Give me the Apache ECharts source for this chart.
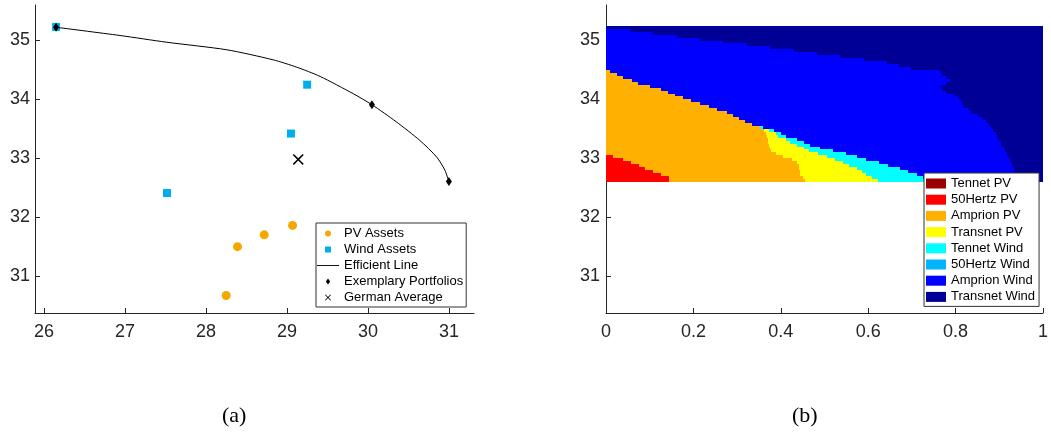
<!DOCTYPE html>
<html>
<head>
<meta charset="utf-8">
<script src="https://cdn.jsdelivr.net/npm/echarts@6/dist/echarts.min.js"></script>
<style>
  html, body { margin: 0; padding: 0; background: #fff; }
  #chart { width: 1051px; height: 440px; }
</style>
</head>
<body>
<div id="chart"></div>
<script>
// ---- (a) risk / return of single assets and the efficient line ----
const pvRisk = [28.25, 28.39, 28.72, 29.07];
const pvReturn = [30.67, 31.50, 31.70, 31.86];
const windRisk = [26.15, 27.52, 29.05, 29.25];
const windReturn = [35.23, 32.41, 33.42, 34.25];
const effRisk = [26.15, 26.94, 27.51, 28.26, 28.83, 29.12, 29.41, 29.82, 30.05, 30.35, 30.64, 30.85, 30.95, 31.0];
const effReturn = [35.225, 35.085, 34.972, 34.842, 34.672, 34.548, 34.39, 34.096, 33.91, 33.62, 33.305, 33.02, 32.80, 32.605];
const exRisk = [26.15, 30.05, 31.0];
const exReturn = [35.225, 33.91, 32.605];
const avgRisk = [29.14];
const avgReturn = [32.98];

const riskTicks = [26, 27, 28, 29, 30, 31];
const returnTicks = [31, 32, 33, 34, 35];
const shareTicks = [0, 0.2, 0.4, 0.6, 0.8, 1];

// ---- (b) portfolio composition along the efficient line ----
// return band edges (bottom to top)
const returnEdges = [32.60, 32.65, 32.70, 32.75, 32.80, 32.85, 32.90, 32.95, 33.00, 33.05,
  33.10, 33.15, 33.20, 33.25, 33.30, 33.35, 33.40, 33.45, 33.50, 33.55,
  33.60, 33.65, 33.70, 33.75, 33.80, 33.85, 33.90, 33.95, 34.00, 34.05,
  34.10, 34.15, 34.20, 34.25, 34.30, 34.35, 34.40, 34.45, 34.50, 34.55,
  34.60, 34.65, 34.70, 34.75, 34.80, 34.85, 34.90, 34.95, 35.00, 35.05,
  35.10, 35.15, 35.20, 35.25];

const assetNames = ['Tennet PV', '50Hertz PV', 'Amprion PV', 'Transnet PV',
  'Tennet Wind', '50Hertz Wind', 'Amprion Wind', 'Transnet Wind'];
const assetColors = ['#9b0000', '#ff0000', '#ffb000', '#ffff00',
  '#00ffff', '#00b4ff', '#0000ff', '#000096'];

// shares per band, bottom band first
const tennetPV = [0, 0, 0, 0, 0, 0, 0, 0, 0, 0, 0, 0, 0, 0, 0, 0, 0, 0, 0, 0,
  0, 0, 0, 0, 0, 0, 0, 0, 0, 0, 0, 0, 0, 0, 0, 0, 0, 0, 0, 0,
  0, 0, 0, 0, 0, 0, 0, 0, 0, 0, 0, 0, 0];
const hertzPV = [0.144, 0.144, 0.127, 0.108, 0.089, 0.076, 0.058, 0.039, 0.015, 0,
  0, 0, 0, 0, 0, 0, 0, 0, 0, 0, 0, 0, 0, 0, 0, 0, 0, 0, 0, 0,
  0, 0, 0, 0, 0, 0, 0, 0, 0, 0, 0, 0, 0, 0, 0, 0, 0, 0, 0, 0, 0, 0, 0];
const amprionPV = [0.311, 0.306, 0.318, 0.335, 0.352, 0.365, 0.378, 0.386, 0.39, 0.39,
  0.377, 0.375, 0.373, 0.371, 0.37, 0.368, 0.366, 0.362, 0.352, 0.335,
  0.318, 0.305, 0.29, 0.276, 0.255, 0.236, 0.214, 0.195, 0.176, 0.159,
  0.142, 0.125, 0.1, 0.073, 0.06, 0.04, 0.025, 0.01, 0, 0,
  0, 0, 0, 0, 0, 0, 0, 0, 0, 0, 0, 0, 0];
const transnetPV = [0.168, 0.158, 0.15, 0.142, 0.134, 0.114, 0.107, 0.099, 0.1, 0.096,
  0.087, 0.077, 0.064, 0.051, 0.041, 0.025, 0.022, 0.01, 0, 0,
  0, 0, 0, 0, 0, 0, 0, 0, 0, 0, 0, 0, 0, 0, 0, 0, 0, 0, 0, 0,
  0, 0, 0, 0, 0, 0, 0, 0, 0, 0, 0, 0, 0];
const tennetWind = [0.117, 0.117, 0.117, 0.105, 0.097, 0.09, 0.082, 0.071, 0.07, 0.064,
  0.056, 0.038, 0.03, 0.03, 0.026, 0.018, 0.012, 0.012, 0.008, 0,
  0, 0, 0, 0, 0, 0, 0, 0, 0, 0, 0, 0, 0, 0, 0, 0, 0, 0, 0, 0,
  0, 0, 0, 0, 0, 0, 0, 0, 0, 0, 0, 0, 0];
const hertzWind = [0, 0, 0, 0, 0, 0, 0, 0, 0, 0, 0, 0, 0, 0, 0, 0, 0, 0, 0, 0,
  0, 0, 0, 0, 0, 0, 0, 0, 0, 0, 0, 0, 0, 0, 0, 0, 0, 0, 0, 0,
  0, 0, 0, 0, 0, 0, 0, 0, 0, 0, 0, 0, 0];
const amprionWind = [0.2, 0.215, 0.228, 0.245, 0.261, 0.285, 0.301, 0.329, 0.345, 0.368,
  0.393, 0.421, 0.438, 0.451, 0.461, 0.484, 0.492, 0.501, 0.522, 0.542,
  0.552, 0.558, 0.562, 0.561, 0.575, 0.584, 0.601, 0.617, 0.629, 0.638,
  0.636, 0.645, 0.666, 0.705, 0.728, 0.738, 0.745, 0.755, 0.698, 0.67,
  0.644, 0.59, 0.536, 0.482, 0.43, 0.376, 0.322, 0.268, 0.215, 0.162,
  0.107, 0.055, 0];
const transnetWind = [0.06, 0.06, 0.06, 0.065, 0.067, 0.07, 0.074, 0.076, 0.08, 0.082,
  0.087, 0.089, 0.095, 0.097, 0.102, 0.105, 0.108, 0.115, 0.118, 0.123,
  0.13, 0.137, 0.148, 0.163, 0.17, 0.18, 0.185, 0.188, 0.195, 0.203,
  0.222, 0.23, 0.234, 0.222, 0.212, 0.222, 0.23, 0.235, 0.302, 0.33,
  0.356, 0.41, 0.464, 0.518, 0.57, 0.624, 0.678, 0.732, 0.785, 0.838,
  0.893, 0.945, 1];

const assetShares = [tennetPV, hertzPV, amprionPV, transnetPV,
  tennetWind, hertzWind, amprionWind, transnetWind];

// ---- styling ----
const AXIS = '#262626';
const FONT = 'Liberation Sans, Arial, sans-serif';

const squarePath = 'path://M0,0 L10,0 L10,10 L0,10 Z';
const diamondPath = 'path://M5,0 L10,7 L5,14 L0,7 Z';
const crossPath = 'path://M0,1 L1,0 L5,4 L9,0 L10,1 L6,5 L10,9 L9,10 L5,6 L1,10 L0,9 L4,5 Z';
const linePath = 'path://M0,0 L24,0 L24,1 L0,1 Z';

function zip(xs, ys) { return xs.map((x, i) => [x, ys[i]]); }

// stacked horizontal bands: [shareStart, shareEnd, returnLow, returnHigh]
const cumulative = returnEdges.slice(0, -1).map(() => 0);
const bandSeries = assetNames.map((name, k) => {
  const data = [];
  assetShares[k].forEach((s, i) => {
    const x0 = cumulative[i];
    cumulative[i] += s;
    if (s > 0) data.push([x0, x0 + s, returnEdges[i], returnEdges[i + 1]]);
  });
  return {
    name,
    type: 'custom',
    xAxisIndex: 1,
    yAxisIndex: 1,
    itemStyle: { color: assetColors[k] },
    encode: { x: [0, 1], y: [2, 3] },
    renderItem(params, api) {
      const pa = api.coord([api.value(0), api.value(3)]);
      const pb = api.coord([api.value(1), api.value(2)]);
      const x = Math.round(pa[0]);
      const y = Math.round(pa[1]);
      const w = Math.round(pb[0]) - x;
      const h = Math.round(pb[1]) - y;
      if (w <= 0 || h <= 0) return null;
      return {
        type: 'rect',
        shape: { x, y, width: w, height: h },
        style: { fill: api.visual('color') }
      };
    },
    data
  };
});

function valueAxis(min, max, ticks, gridIndex, margin) {
  return {
    type: 'value', min, max, gridIndex,
    axisLine: { show: true, onZero: false, lineStyle: { color: AXIS, width: 1 } },
    axisTick: { show: true, inside: true, length: 5, lineStyle: { color: AXIS }, customValues: ticks },
    axisLabel: { color: AXIS, fontSize: 18, fontFamily: FONT, margin, customValues: ticks },
    splitLine: { show: false }
  };
}

const chart = echarts.init(document.getElementById('chart'), null, { renderer: 'canvas' });
chart.setOption({
  animation: false,
  backgroundColor: '#fff',
  grid: [
    { left: 35, right: 577, top: 5, bottom: 127 },
    { left: 606, right: 5, top: 5, bottom: 127 }
  ],
  xAxis: [
    valueAxis(25.89, 31.31, riskTicks, 0, 10),
    valueAxis(0, 1, shareTicks, 1, 10)
  ],
  yAxis: [
    valueAxis(30.373, 35.603, returnTicks, 0, 5),
    valueAxis(30.373, 35.603, returnTicks, 1, 6)
  ],
  legend: [
    {
      data: [
        { name: 'PV Assets', icon: 'circle' },
        { name: 'Wind Assets', icon: squarePath },
        { name: 'Efficient Line', icon: linePath },
        { name: 'Exemplary Portfolios', icon: diamondPath },
        { name: 'German Average', icon: crossPath }
      ],
      orient: 'vertical',
      left: 316, top: 223,
      padding: [4, 3, 3, 1],
      itemWidth: 22, itemHeight: 6, itemGap: 3,
      selectedMode: false,
      backgroundColor: '#fff',
      borderColor: '#333', borderWidth: 1,
      textStyle: { color: '#000', fontSize: 13, fontFamily: FONT, lineHeight: 13 }
    },
    {
      data: assetNames,
      orient: 'vertical',
      left: 924, top: 173,
      padding: [4, 4, 3, 2],
      itemWidth: 20, itemHeight: 10, itemGap: 3.2,
      icon: 'rect',
      selectedMode: false,
      backgroundColor: '#fff',
      borderColor: '#333', borderWidth: 1,
      textStyle: { color: '#000', fontSize: 13, fontFamily: FONT, lineHeight: 13 }
    }
  ],
  graphic: [
    { type: 'text', left: 222, top: 405, style: { text: '(a)', fontSize: 22, fontFamily: 'Liberation Serif, serif', fill: '#000' } },
    { type: 'text', left: 792, top: 405, style: { text: '(b)', fontSize: 22, fontFamily: 'Liberation Serif, serif', fill: '#000' } }
  ],
  series: [
    {
      name: 'PV Assets', type: 'scatter', xAxisIndex: 0, yAxisIndex: 0,
      symbol: 'circle', symbolSize: 9,
      itemStyle: { color: '#f5a700', opacity: 1 },
      data: zip(pvRisk, pvReturn), z: 3
    },
    {
      name: 'Wind Assets', type: 'scatter', xAxisIndex: 0, yAxisIndex: 0,
      symbol: 'rect', symbolSize: 8,
      itemStyle: { color: '#00aef0', opacity: 1 },
      data: zip(windRisk, windReturn), z: 3
    },
    {
      name: 'Efficient Line', type: 'line', xAxisIndex: 0, yAxisIndex: 0,
      symbol: 'none', smooth: 0.25,
      lineStyle: { color: '#000', width: 1 },
      itemStyle: { color: '#000' },
      data: zip(effRisk, effReturn), z: 4
    },
    {
      name: 'Exemplary Portfolios', type: 'scatter', xAxisIndex: 0, yAxisIndex: 0,
      symbol: 'diamond', symbolSize: [6, 9],
      itemStyle: { color: '#000', opacity: 1 },
      data: zip(exRisk, exReturn), z: 5
    },
    {
      name: 'German Average', type: 'scatter', xAxisIndex: 0, yAxisIndex: 0,
      symbol: crossPath, symbolSize: 11,
      itemStyle: { color: '#000', opacity: 1 },
      data: zip(avgRisk, avgReturn), z: 5
    }
  ].concat(bandSeries)
});
</script>
</body>
</html>
